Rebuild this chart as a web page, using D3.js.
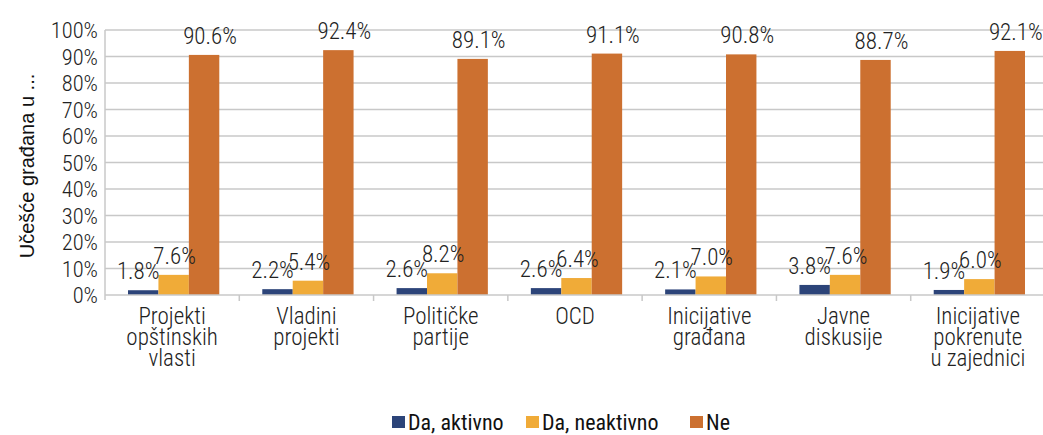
<!DOCTYPE html>
<meta charset="utf-8">
<style>
body { margin: 0; background: #fff; }
text { font-family: "Roboto Condensed", "Liberation Sans Narrow", Roboto, sans-serif; font-weight: 300; fill: #222; }
.grid line { stroke: #c8c8c8; stroke-width: 1.5; }
</style>
<body>
<div id="chart"></div>
<script src="https://d3js.org/d3.v7.min.js"></script>
<script>

var categories = [
  ["Projekti", "opštinskih", "vlasti"],
  ["Vladini", "projekti"],
  ["Političke", "partije"],
  ["OCD"],
  ["Inicijative", "građana"],
  ["Javne", "diskusije"],
  ["Inicijative", "pokrenute", "u zajednici"]
];
var seriesNames = ["Da, aktivno", "Da, neaktivno", "Ne"];
var aktivno   = [1.8, 2.2, 2.6, 2.6, 2.1, 3.8, 1.9];
var neaktivno = [7.6, 5.4, 8.2, 6.4, 7.0, 7.6, 6.0];
var ne        = [90.6, 92.4, 89.1, 91.1, 90.8, 88.7, 92.1];
var yTicks = [0, 10, 20, 30, 40, 50, 60, 70, 80, 90, 100];
var colors = ["#2c4479", "#f0ab38", "#cc7030"];

var width = 1043, height = 435;
var margin = {top: 30, right: 0, bottom: 140, left: 105};

var svg = d3.select("#chart").append("svg")
    .attr("width", width)
    .attr("height", height);

var x = d3.scaleBand()
    .domain(d3.range(categories.length))
    .range([margin.left, 1045]);

// three bars of ~31px inside each ~134px band
var inner = d3.scaleBand().domain(d3.range(3))
    .range([23, x.bandwidth() - 20]);

var y = d3.scaleLinear()
    .domain([0, 100])
    .range([295, 30]);

// grid
svg.append("g").attr("class", "grid")
  .selectAll("line")
  .data(yTicks.slice(1))
  .enter().append("line")
    .attr("x1", margin.left).attr("x2", width)
    .attr("y1", function(d) { return y(d); })
    .attr("y2", function(d) { return y(d); });

// y tick labels
svg.append("g").selectAll("text")
  .data(yTicks)
  .enter().append("text")
    .attr("x", 98)
    .attr("y", function(d) { return y(d); })
    .attr("dy", "0.36em")
    .attr("text-anchor", "end")
    .style("font-size", "22.5px")
    .text(function(d) { return d + "%"; });

// y title
svg.append("text")
    .attr("transform", "translate(34,166) rotate(-90)")
    .attr("text-anchor", "middle")
    .style("font-family", "'Liberation Sans', Arial, sans-serif")
    .style("font-size", "20px")
    .style("font-weight", 400)
    .style("fill", "#111")
    .text("Učešće građana u ...");

var series = [aktivno, neaktivno, ne];
var labelShift = [-5, 1, 6];

var groups = svg.selectAll(".cat")
  .data(categories)
  .enter().append("g")
    .attr("class", "cat")
    .attr("transform", function(d, i) { return "translate(" + x(i) + ",0)"; });

groups.each(function(c, i) {
  var g = d3.select(this);
  series.forEach(function(s, k) {
    g.append("rect")
      .attr("x", inner(k))
      .attr("width", inner.bandwidth())
      .attr("y", y(s[i]))
      .attr("height", y(0) - y(s[i]))
      .attr("fill", colors[k]);
  });
  series.forEach(function(s, k) {
    g.append("text")
      .attr("x", inner(k) + inner.bandwidth() / 2 + labelShift[k])
      .attr("y", y(s[i]) - 11)
      .attr("text-anchor", "middle")
      .style("font-size", "23px")
      .text(s[i].toFixed(1) + "%");
  });
  var lbl = g.append("text")
    .attr("text-anchor", "middle")
    .style("font-size", "23px");
  c.forEach(function(line, j) {
    lbl.append("tspan")
      .attr("x", x.bandwidth() / 2)
      .attr("y", 324 + j * 20.8)
      .text(line);
  });
});

// x axis line + ticks
svg.append("line")
    .attr("x1", margin.left).attr("x2", width)
    .attr("y1", y(0)).attr("y2", y(0))
    .attr("stroke", "#c8c8c8").attr("stroke-width", 1.5);
svg.append("line")
    .attr("x1", margin.left).attr("x2", margin.left)
    .attr("y1", y(100)).attr("y2", y(0) + 5)
    .attr("stroke", "#c8c8c8").attr("stroke-width", 1.5);
svg.append("g").selectAll("line")
  .data(d3.range(1, categories.length))
  .enter().append("line")
    .attr("x1", function(d) { return x(d); })
    .attr("x2", function(d) { return x(d); })
    .attr("y1", y(0)).attr("y2", y(0) + 6)
    .attr("stroke", "#c8c8c8").attr("stroke-width", 1.5);

// legend
var legendX = [392, 526, 690];
var legend = svg.selectAll(".legend")
  .data(seriesNames)
  .enter().append("g")
    .attr("transform", function(d, i) { return "translate(" + legendX[i] + ",416)"; });
legend.append("rect")
    .attr("width", 13).attr("height", 12)
    .attr("fill", function(d, i) { return colors[i]; });
legend.append("text")
    .attr("x", 16).attr("y", 6)
    .attr("dy", "0.36em")
    .style("font-size", "22px")
    .style("font-weight", 400)
    .style("fill", "#111")
    .text(function(d) { return d; });

</script>
</body>
